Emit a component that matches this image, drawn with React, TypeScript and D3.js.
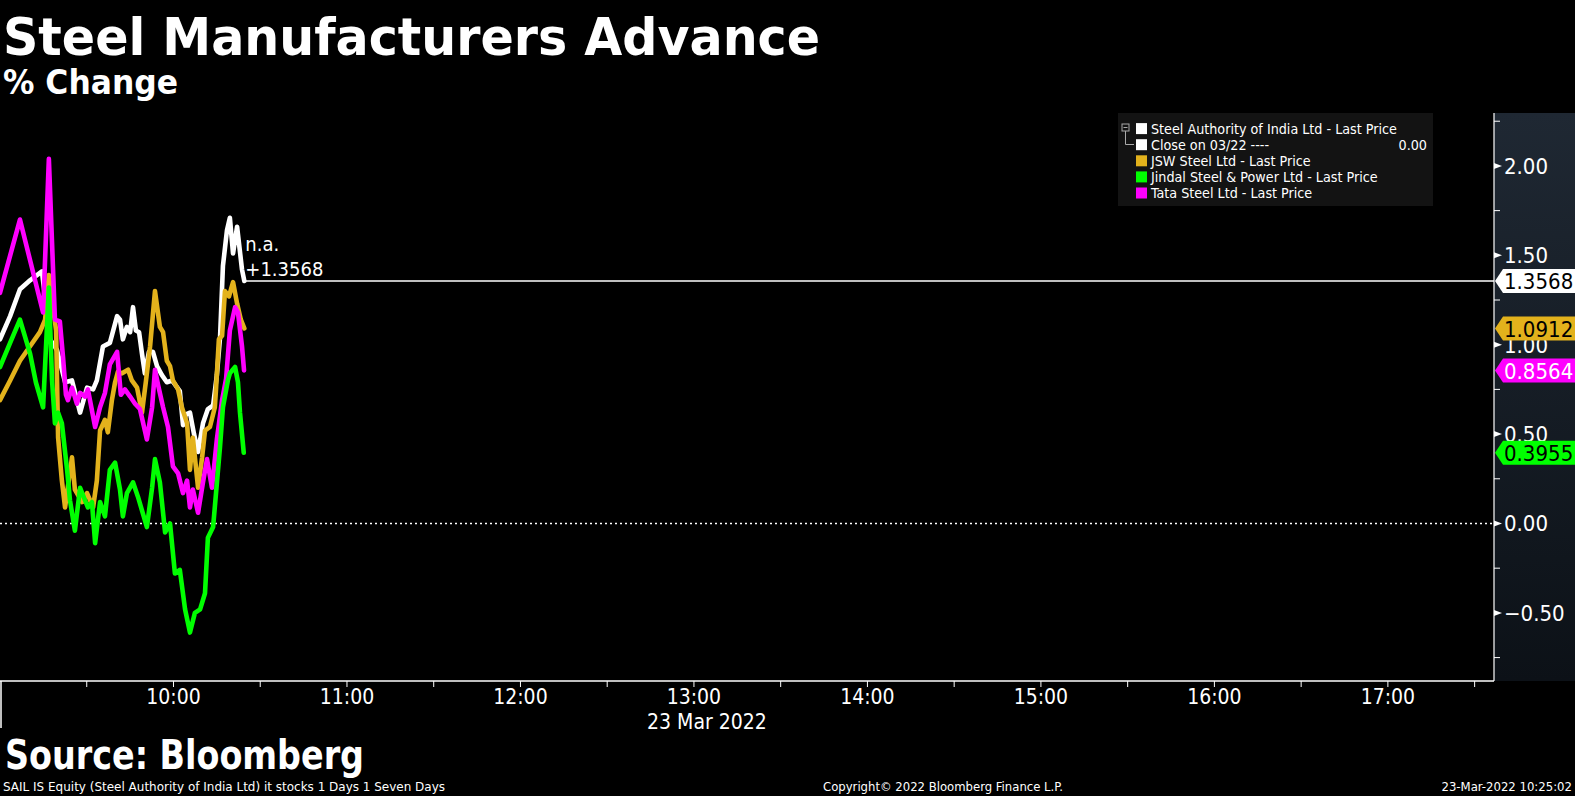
import React from "react";
import * as d3 from "d3";

// ---- Data (minutes after 09:00, % change) ----
const sailSeries: [number, number][] = [
  [0, 1.03], [3.5, 1.16], [6.9, 1.31], [10.4, 1.36], [14.5, 1.41], [17.3, 1.03], [19.7, 0.97],
  [22.5, 0.79], [24.9, 0.8], [27.7, 0.62], [30.1, 0.76], [32.2, 0.75], [33.5, 0.8], [35.6, 0.99],
  [38.0, 1.01], [40.5, 1.16], [41.5, 1.14], [42.5, 1.03], [43.9, 1.1], [45.0, 1.07], [46.0, 1.21],
  [47.0, 1.08], [48.1, 1.07], [49.1, 0.95], [50.1, 0.84], [51.5, 0.96], [52.9, 0.96], [54.3, 0.88],
  [56.0, 0.83], [57.7, 0.79], [59.5, 0.8], [62.2, 0.74], [63.3, 0.55], [64.3, 0.61], [65.7, 0.62],
  [67.1, 0.5], [68.5, 0.4], [70.2, 0.56], [71.9, 0.64], [73.7, 0.66], [75.0, 0.83], [76.1, 1.04],
  [77.1, 1.44], [78.5, 1.64], [79.5, 1.71], [80.6, 1.51], [82.0, 1.66], [83.7, 1.42], [84.5, 1.3568],
];

const jswSeries: [number, number][] = [
  [0, 0.69], [3.5, 0.8], [6.9, 0.91], [13.8, 1.07], [15.6, 1.14], [16.9, 1.39], [19.4, 1.08],
  [20.1, 0.48], [21.4, 0.24], [22.5, 0.09], [24.9, 0.37], [25.9, 0.19], [28.4, 0.12], [30.1, 0.17],
  [32.2, 0.09], [33.5, 0.24], [34.6, 0.52], [36.3, 0.58], [37.3, 0.51], [38.7, 0.69], [39.8, 0.79],
  [40.8, 0.85], [42.2, 0.84], [44.3, 0.86], [45.6, 0.8], [47.4, 0.76], [49.1, 0.62], [50.5, 0.8],
  [51.9, 0.99], [53.6, 1.3], [55.3, 1.1], [56.4, 1.07], [57.7, 0.91], [58.8, 0.88], [59.8, 0.8],
  [61.6, 0.75], [62.9, 0.65], [64.7, 0.56], [65.7, 0.3], [66.7, 0.48], [68.5, 0.2], [69.9, 0.37],
  [70.9, 0.52], [72.6, 0.54], [74.3, 0.65], [74.7, 0.75], [75.7, 1.03], [76.8, 1.05], [77.8, 1.3],
  [79.2, 1.27], [80.6, 1.35], [82.0, 1.23], [83.3, 1.14], [84.5, 1.0912],
];

const jindalSeries: [number, number][] = [
  [0, 0.875], [3.5, 1.01], [6.9, 1.14], [10.4, 0.95], [12.4, 0.79], [14.9, 0.65], [16.9, 1.32],
  [18.0, 0.8], [19.0, 0.56], [20.1, 0.62], [21.4, 0.56], [23.2, 0.3], [24.2, 0.13], [25.9, -0.04],
  [27.7, 0.2], [29.4, 0.13], [30.4, 0.09], [31.8, 0.12], [32.9, -0.11], [34.6, 0.12], [36.3, 0.04],
  [38.0, 0.3], [39.8, 0.34], [41.5, 0.19], [42.5, 0.04], [43.9, 0.17], [46.0, 0.23], [47.7, 0.15],
  [50.8, -0.02], [52.6, 0.2], [53.6, 0.36], [55.3, 0.23], [57.1, -0.05], [58.8, 0.0], [60.5, -0.28],
  [62.2, -0.26], [64.0, -0.48], [65.7, -0.61], [67.4, -0.5], [69.2, -0.48], [70.9, -0.39],
  [71.9, -0.08], [73.7, -0.02], [76.1, 0.43], [77.1, 0.65], [78.8, 0.8], [79.5, 0.84], [81.3, 0.875],
  [82.3, 0.79], [83.0, 0.62], [84.3, 0.3955],
];

const tataSeries: [number, number][] = [
  [0, 1.29], [6.9, 1.7], [14.9, 1.18], [16.9, 2.04], [19.0, 1.14], [20.7, 1.13], [21.8, 0.93],
  [22.8, 0.72], [23.5, 0.69], [24.9, 0.76], [26.6, 0.67], [27.7, 0.73], [29.4, 0.71], [30.4, 0.75],
  [32.9, 0.54], [34.6, 0.65], [36.3, 0.73], [38.0, 0.89], [40.5, 0.96], [41.8, 0.72], [43.2, 0.75],
  [45.0, 0.71], [46.7, 0.67], [48.4, 0.64], [50.8, 0.47], [52.6, 0.65], [53.6, 0.86], [54.6, 0.78],
  [56.4, 0.65], [58.1, 0.54], [59.8, 0.32], [61.6, 0.28], [63.3, 0.17], [64.7, 0.24], [65.7, 0.09],
  [66.7, 0.19], [68.5, 0.06], [70.2, 0.23], [71.6, 0.36], [73.3, 0.2], [75.0, 0.47], [76.8, 0.69],
  [78.2, 0.81], [79.5, 1.08], [81.3, 1.21], [82.3, 1.18], [83.7, 0.99], [84.4, 0.8564],
];

const seriesNames = [
  "Steel Authority of India Ltd - Last Price",
  "JSW Steel Ltd - Last Price",
  "Jindal Steel & Power Ltd - Last Price",
  "Tata Steel Ltd - Last Price",
];
const lastValues = [1.3568, 1.0912, 0.8564, 0.3955];
const yTicks = [-0.5, 0, 0.5, 1.0, 1.5, 2.0];
const hourLabels = ["10:00", "11:00", "12:00", "13:00", "14:00", "15:00", "16:00", "17:00"];
const dateLabel = "23 Mar 2022";

const W = 1575;
const H = 796;
const COND = "'DejaVu Sans Condensed', 'DejaVu Sans', sans-serif";
const BOLD = "'DejaVu Sans Condensed', 'DejaVu Sans', Verdana, sans-serif";

const T0 = new Date(2022, 2, 23, 9, 0, 0);
const toDate = (m: number) => new Date(T0.getTime() + m * 60000);

export default function App() {
  const plotL = 0, plotR = 1494, plotT = 113, plotB = 681;
  const x = d3.scaleTime().domain([T0, toDate(516.7)]).range([plotL, plotR]);
  const y = d3.scaleLinear().domain([-0.881, 2.296]).range([plotB, plotT]);
  const line = d3
    .line<[number, number]>()
    .x((d) => x(toDate(d[0])))
    .y((d) => y(d[1]));

  const colors = { white: "#ffffff", gold: "#e3b21c", green: "#00ff00", magenta: "#ff00ff" };
  const drawOrder: { data: [number, number][]; color: string }[] = [
    { data: sailSeries, color: colors.white },
    { data: jswSeries, color: colors.gold },
    { data: tataSeries, color: colors.magenta },
    { data: jindalSeries, color: colors.green },
  ];

  const halfHours = d3.timeMinute.every(30)!.range(toDate(30), toDate(516.7));
  const hourTicks = hourLabels.map((_, i) => toDate(60 * (i + 1)));
  const minorY = d3.range(-0.75, 2.3, 0.25).filter((v) => Math.abs(v * 2 - Math.round(v * 2)) > 1e-6);

  const lastEnd = sailSeries[sailSeries.length - 1];
  const lastX = x(toDate(lastEnd[0]));
  const lastY = y(lastEnd[1]);

  const badges = [
    { v: lastValues[0], fill: "#ffffff", text: "#000000" },
    { v: lastValues[1], fill: "#e3b21c", text: "#000000" },
    { v: lastValues[2], fill: "#ff00ff", text: "#ffffff" },
    { v: lastValues[3], fill: "#00ff00", text: "#000000" },
  ];

  const legendRows = [
    { label: seriesNames[0], color: colors.white },
    { label: "Close on 03/22 ----", color: colors.white, value: "0.00" },
    { label: seriesNames[1], color: colors.gold },
    { label: seriesNames[2], color: colors.green },
    { label: seriesNames[3], color: colors.magenta },
  ];

  return (
    <svg
      width={W}
      height={H}
      style={{ position: "absolute", left: 0, top: 0, display: "block", background: "#000" }}
    >
      <defs>
        <linearGradient id="axisBg" x1="0" y1="0" x2="0" y2="1">
          <stop offset="0" stopColor="#1f2833" />
          <stop offset="1" stopColor="#0c1117" />
        </linearGradient>
      </defs>
      <rect x={0} y={0} width={W} height={H} fill="#000" />

      {/* Title */}
      <text x={3} y={55} fill="#fff" fontFamily={BOLD} fontWeight="bold" fontSize={52}
        textLength={817} lengthAdjust="spacingAndGlyphs">Steel Manufacturers Advance</text>
      <text x={3} y={94} fill="#fff" fontFamily={BOLD} fontWeight="bold" fontSize={33}
        textLength={175} lengthAdjust="spacingAndGlyphs">% Change</text>

      {/* Right axis panel */}
      <rect x={plotR} y={plotT} width={W - plotR} height={plotB - plotT} fill="url(#axisBg)" />
      <line x1={plotR} x2={plotR} y1={plotT} y2={plotB} stroke="#fff" strokeWidth={1.2} />
      {minorY.map((v) => (
        <line key={"m" + v} x1={plotR} x2={plotR + 6} y1={y(v)} y2={y(v)} stroke="#fff" strokeWidth={1} />
      ))}
      {yTicks.map((v) => (
        <g key={"t" + v}>
          <path d={`M${plotR},${y(v) - 3}L${plotR + 8},${y(v)}L${plotR},${y(v) + 3}Z`} fill="#fff" />
          <text x={plotR + 10} y={y(v)} dy="0.36em" fill="#fff" fontFamily={COND} fontSize={22}>
            {d3.format(".2f")(v)}
          </text>
        </g>
      ))}

      {/* Zero line */}
      <line x1={plotL} x2={plotR} y1={y(0)} y2={y(0)} stroke="#fff" strokeWidth={1.5} strokeDasharray="2,3" />

      {/* Last value line */}
      <line x1={lastX} x2={plotR} y1={lastY} y2={lastY} stroke="#fff" strokeWidth={1.5} />

      {/* Series */}
      {drawOrder.map((s, i) => (
        <path key={i} d={line(s.data) || ""} fill="none" stroke={s.color} strokeWidth={4.6}
          strokeLinejoin="round" strokeLinecap="round" />
      ))}

      <text x={lastX + 1} y={251} fill="#fff" fontFamily={COND} fontSize={20}>n.a.</text>
      <text x={lastX + 1} y={276} fill="#fff" fontFamily={COND} fontSize={20}>
        {"+" + d3.format(".4f")(lastValues[0])}
      </text>

      {/* Badges */}
      {badges.map((b, i) => {
        const cy = y(b.v);
        return (
          <g key={"b" + i}>
            <path d={`M${plotR + 1},${cy}L${plotR + 9},${cy - 12}L${W},${cy - 12}L${W},${cy + 12}L${plotR + 9},${cy + 12}Z`}
              fill={b.fill} />
            <text x={plotR + 10} y={cy} dy="0.37em" fill={b.text} fontFamily={COND} fontSize={22}>
              {d3.format(".4f")(b.v)}
            </text>
          </g>
        );
      })}

      {/* X axis */}
      <line x1={plotL} x2={plotR} y1={plotB} y2={plotB} stroke="#fff" strokeWidth={1.5} />
      <line x1={1} x2={1} y1={plotB} y2={728} stroke="#fff" strokeWidth={1.5} />
      {halfHours.map((d, i) => (
        <line key={"xt" + i} x1={x(d)} x2={x(d)} y1={plotB} y2={plotB + 6} stroke="#fff" strokeWidth={1} />
      ))}
      {hourTicks.map((d, i) => (
        <text key={"xl" + i} x={x(d)} y={704} textAnchor="middle" fill="#fff" fontFamily={COND} fontSize={21}>
          {hourLabels[i]}
        </text>
      ))}
      <text x={x(toDate(4 * 60)) + 13} y={729} textAnchor="middle" fill="#fff" fontFamily={COND} fontSize={21}>
        {dateLabel}
      </text>

      {/* Legend */}
      <rect x={1118} y={113} width={315} height={93} fill="#131313" />
      <rect x={1122} y={124} width={7} height={7} fill="none" stroke="#aaa" strokeWidth={1} />
      <line x1={1123.5} x2={1127.5} y1={127.5} y2={127.5} stroke="#aaa" strokeWidth={1} />
      <path d="M1125.5,131 V144.5 H1134" fill="none" stroke="#aaa" strokeWidth={1} />
      {legendRows.map((r, i) => {
        const cy = 128.6 + i * 16.1;
        return (
          <g key={"lg" + i}>
            <rect x={1136} y={cy - 5.5} width={11} height={11} fill={r.color} />
            <text x={1151} y={cy} dy="0.36em" fill="#fff" fontFamily={COND} fontSize={14.2}>{r.label}</text>
            {r.value && (
              <text x={1427} y={cy} dy="0.36em" textAnchor="end" fill="#fff" fontFamily={COND} fontSize={14.2}>
                {r.value}
              </text>
            )}
          </g>
        );
      })}

      {/* Source & footer */}
      <text x={5} y={769} fill="#fff" fontFamily={BOLD} fontWeight="bold" fontSize={40}
        textLength={359} lengthAdjust="spacingAndGlyphs">Source: Bloomberg</text>
      <text x={3} y={791} fill="#fff" fontFamily={COND} fontSize={13} textLength={442}
        lengthAdjust="spacingAndGlyphs">SAIL IS Equity (Steel Authority of India Ltd) it stocks 1 Days 1 Seven Days</text>
      <text x={823} y={791} fill="#fff" fontFamily={COND} fontSize={13} textLength={240}
        lengthAdjust="spacingAndGlyphs">Copyright© 2022 Bloomberg Finance L.P.</text>
      <text x={1572} y={791} textAnchor="end" fill="#fff" fontFamily={COND} fontSize={13}>23-Mar-2022 10:25:02</text>
    </svg>
  );
}
